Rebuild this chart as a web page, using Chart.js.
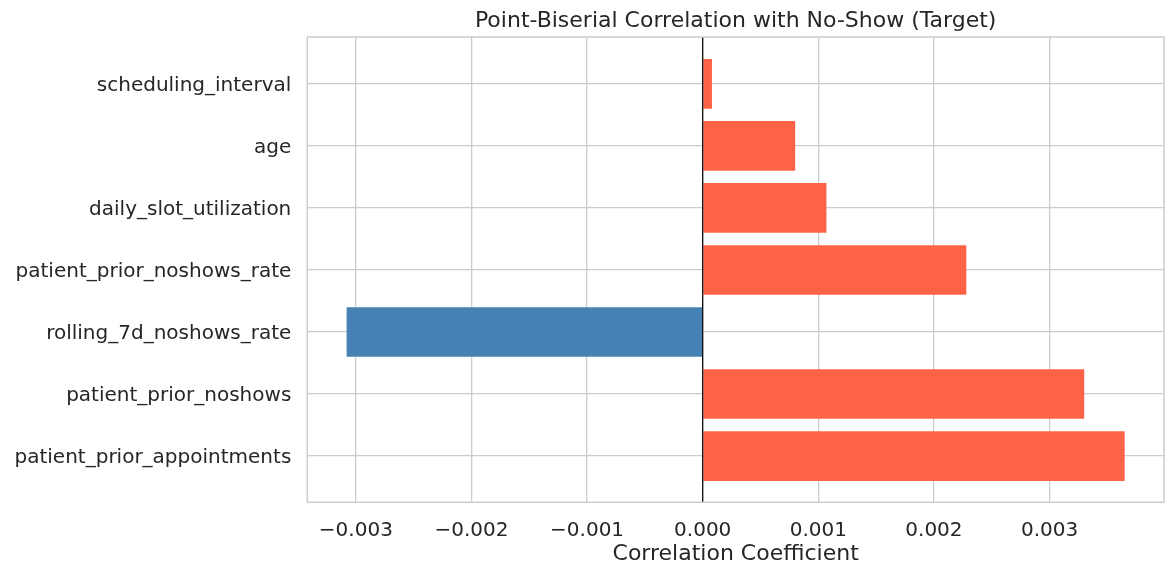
<!DOCTYPE html>
<html>
<head>
<meta charset="utf-8">
<script src="https://cdn.jsdelivr.net/npm/chart.js@4"></script>
<style>
  html, body { margin: 0; padding: 0; background: #fff; }
  #wrap { width: 1176px; height: 576px; }
</style>
</head>
<body>
<div id="wrap"><canvas id="chart"></canvas></div>
<script>
// bottom to top, as matplotlib lays out barh
const features = [
  "patient_prior_appointments",
  "patient_prior_noshows",
  "rolling_7d_noshows_rate",
  "patient_prior_noshows_rate",
  "daily_slot_utilization",
  "age",
  "scheduling_interval",
];
const correlations = [0.00365, 0.00330, -0.00308, 0.00228, 0.00107, 0.00080, 0.00008];
const xTicks = [-0.003, -0.002, -0.001, 0.000, 0.001, 0.002, 0.003];

const POS_COLOR = "#ff6347"; // tomato
const NEG_COLOR = "#4682b4"; // steelblue
const GRID = "#cccccc";
const TEXT = "#262626";
const FONT = "'DejaVu Sans', sans-serif";

function fmtTick(v) {
  return v.toFixed(3).replace("-", "\u2212");
}

// zero line + four spines, like axvline and the seaborn frame
const frameAndZeroPlugin = {
  id: "frameAndZero",
  afterDatasetsDraw(chart) {
    const { ctx, chartArea } = chart;
    const x0 = chart.scales.x.getPixelForValue(0);
    ctx.save();
    ctx.strokeStyle = "#000";
    ctx.lineWidth = 1.2;
    ctx.beginPath();
    ctx.moveTo(x0, chartArea.top);
    ctx.lineTo(x0, chartArea.bottom);
    ctx.stroke();
    ctx.strokeStyle = GRID;
    ctx.lineWidth = 1.5;
    ctx.strokeRect(chartArea.left, chartArea.top, chartArea.right - chartArea.left, chartArea.bottom - chartArea.top);
    ctx.restore();
  },
};

new Chart(document.getElementById("chart"), {
  type: "bar",
  data: {
    datasets: [{
      data: features.map((f, i) => ({ x: correlations[i], y: i })),
      backgroundColor: correlations.map((v) => (v < 0 ? NEG_COLOR : POS_COLOR)),
      borderWidth: 0,
      categoryPercentage: 1,
      barPercentage: 0.8,
    }],
  },
  options: {
    indexAxis: "y",
    responsive: true,
    maintainAspectRatio: false,
    animation: false,
    devicePixelRatio: 1,
    layout: { padding: { left: 0, right: 12, top: 0, bottom: 0 } },
    plugins: {
      legend: { display: false },
      tooltip: { enabled: false },
      title: {
        display: true,
        fullSize: false,
        text: "Point-Biserial Correlation with No-Show (Target)",
        color: TEXT,
        font: { family: FONT, size: 22, weight: "normal" },
        padding: { top: 8, bottom: 2.6 },
      },
    },
    scales: {
      x: {
        type: "linear",
        min: -0.00342,
        max: 0.00399,
        afterBuildTicks: (scale) => { scale.ticks = xTicks.map((v) => ({ value: v })); },
        afterFit: (scale) => { scale.height = 73.7; },
        ticks: {
          color: TEXT,
          font: { family: FONT, size: 20 },
          padding: 16.5,
          maxRotation: 0,
          autoSkip: false,
          callback: (v) => fmtTick(v),
        },
        grid: { color: GRID, lineWidth: 1.3, drawTicks: false },
        border: { display: false },
        title: {
          display: true,
          text: "Correlation Coefficient",
          color: TEXT,
          font: { family: FONT, size: 22 },
          padding: { top: 0, bottom: 9 },
        },
      },
      y: {
        type: "linear",
        min: -0.745,
        max: 6.755,
        offset: false,
        afterBuildTicks: (scale) => { scale.ticks = features.map((f, i) => ({ value: i })); },
        afterFit: (scale) => { scale.width = 307.3; },
        ticks: {
          color: TEXT,
          font: { family: FONT, size: 20 },
          padding: 16,
          labelOffset: 2,
          autoSkip: false,
          callback: (v) => features[v] ?? "",
        },
        grid: { color: GRID, lineWidth: 1.3, drawTicks: false, offset: false },
        border: { display: false },
      },
    },
  },
  plugins: [frameAndZeroPlugin],
});
</script>
</body>
</html>
